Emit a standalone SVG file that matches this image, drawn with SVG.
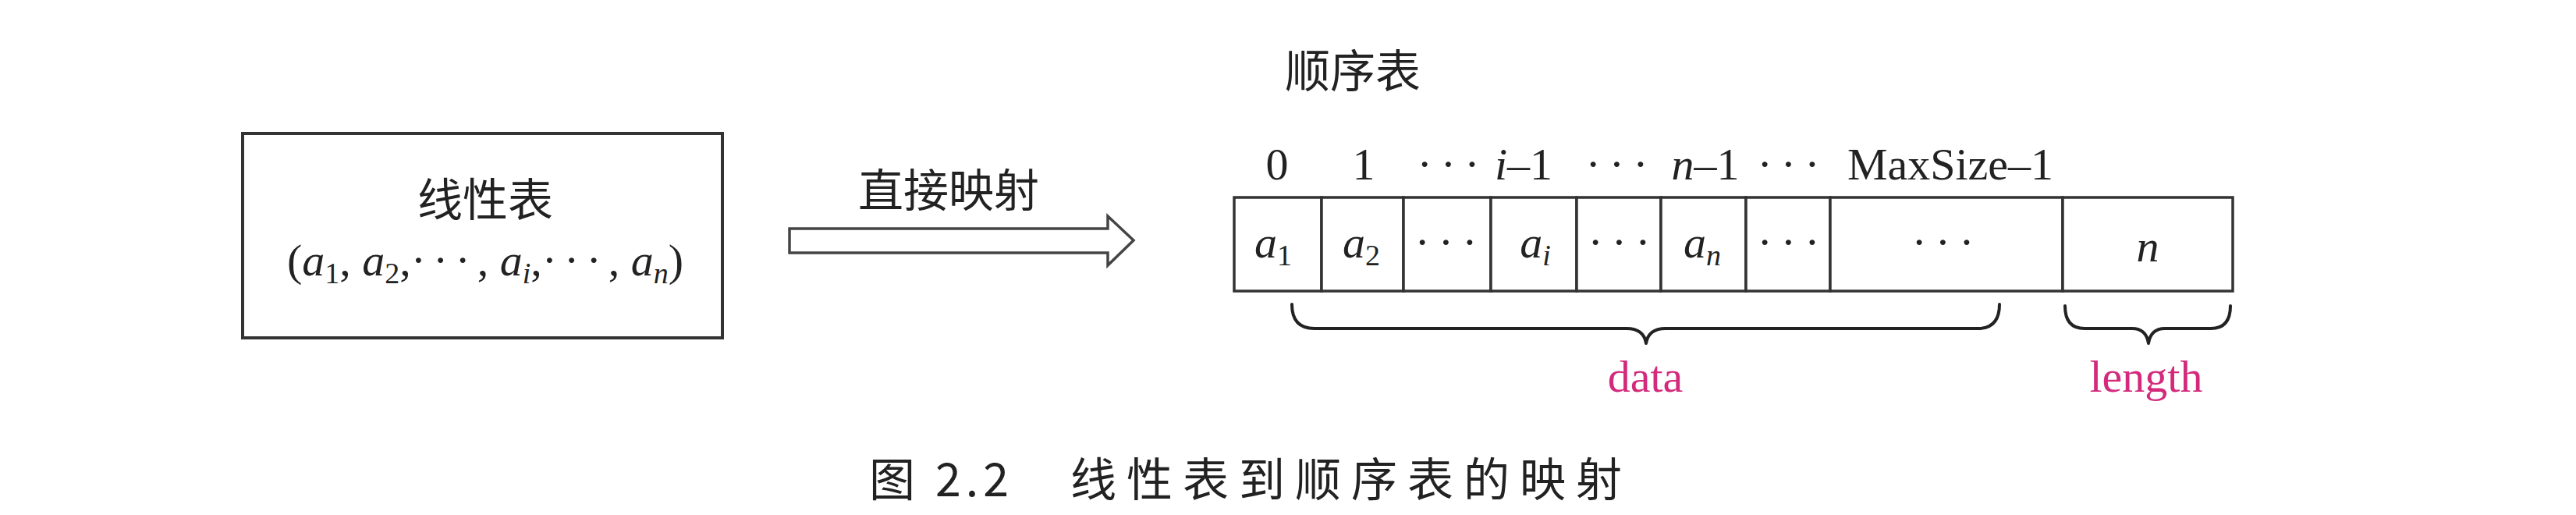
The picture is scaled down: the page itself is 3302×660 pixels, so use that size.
<svg xmlns="http://www.w3.org/2000/svg" width="3302" height="660" viewBox="0 0 3302 660">
<style>
.cjk{font-family:"Noto Sans CJK SC",sans-serif;font-size:58px;fill:#222}
.m{font-family:"Liberation Serif",serif;font-size:58px;fill:#222}
.it{font-style:italic}
.sub{font-size:38px}
.dots{font-family:"Liberation Serif",serif;font-size:58px;fill:#222;letter-spacing:11px}
.cell{fill:#fff;stroke:#333;stroke-width:3.5}
.brace{fill:none;stroke:#222;stroke-width:4;stroke-linecap:round;stroke-linejoin:round}
.lbl{font-family:"Liberation Serif",serif;font-size:58px;fill:#d42a7c}
.cap{font-family:"Noto Sans CJK SC",sans-serif;font-size:59px;fill:#222}
</style>
<rect width="3302" height="660" fill="#fff"/>

<g id="linear-list">
  <rect x="311" y="171" width="615" height="262" fill="#fff" stroke="#333" stroke-width="4"/>
  <text class="cjk" x="622" y="277" text-anchor="middle">线性表</text>
  <text class="m" x="622" y="353" text-anchor="middle">(<tspan class="it">a</tspan><tspan class="sub" dy="10">1</tspan><tspan dy="-10">, </tspan><tspan class="it">a</tspan><tspan class="sub" dy="10">2</tspan><tspan dy="-10">,</tspan><tspan letter-spacing="9">···</tspan>, <tspan class="it">a</tspan><tspan class="sub it" dy="10">i</tspan><tspan dy="-10">,</tspan><tspan letter-spacing="9">···</tspan>, <tspan class="it">a</tspan><tspan class="sub it" dy="10">n</tspan><tspan dy="-10">)</tspan></text>
</g>

<g id="connectors">
  <polygon points="1012,293 1420,293 1420,277 1453,308 1420,340 1420,324 1012,324" fill="#fff" stroke="#444" stroke-width="3.5" stroke-linejoin="miter"/>
  <text class="cjk" x="1216" y="265" text-anchor="middle">直接映射</text>
</g>

<g id="seq-title">
  <text class="cjk" x="1734" y="112" text-anchor="middle">顺序表</text>
</g>

<g id="indices">
  <text class="m" x="1637" y="230" text-anchor="middle">0</text>
  <text class="m" x="1748" y="230" text-anchor="middle">1</text>
  <text class="dots" x="1862" y="230" text-anchor="middle">···</text>
  <text class="m" x="1953" y="230" text-anchor="middle"><tspan class="it">i</tspan>–1</text>
  <text class="dots" x="2078" y="230" text-anchor="middle">···</text>
  <text class="m" x="2186" y="230" text-anchor="middle"><tspan class="it">n</tspan>–1</text>
  <text class="dots" x="2298" y="230" text-anchor="middle">···</text>
  <text class="m" x="2500" y="230" text-anchor="middle">MaxSize–1</text>
</g>

<g id="seq-table">
  <rect class="cell" x="1582" y="253" width="112" height="120"/>
  <rect class="cell" x="1694" y="253" width="105" height="120"/>
  <rect class="cell" x="1799" y="253" width="112" height="120"/>
  <rect class="cell" x="1911" y="253" width="110" height="120"/>
  <rect class="cell" x="2021" y="253" width="108" height="120"/>
  <rect class="cell" x="2129" y="253" width="109" height="120"/>
  <rect class="cell" x="2238" y="253" width="108" height="120"/>
  <rect class="cell" x="2346" y="253" width="298" height="120"/>
  <rect class="cell" x="2644" y="253" width="218" height="120"/>
  <text class="m" x="1632" y="330" text-anchor="middle"><tspan class="it">a</tspan><tspan class="sub" dy="10">1</tspan></text>
  <text class="m" x="1745" y="330" text-anchor="middle"><tspan class="it">a</tspan><tspan class="sub" dy="10">2</tspan></text>
  <text class="dots" x="1859" y="330" text-anchor="middle">···</text>
  <text class="m" x="1968" y="330" text-anchor="middle"><tspan class="it">a</tspan><tspan class="sub it" dy="10">i</tspan></text>
  <text class="dots" x="2081" y="330" text-anchor="middle">···</text>
  <text class="m" x="2182" y="330" text-anchor="middle"><tspan class="it">a</tspan><tspan class="sub it" dy="10">n</tspan></text>
  <text class="dots" x="2298" y="330" text-anchor="middle">···</text>
  <text class="dots" x="2496" y="330" text-anchor="middle">···</text>
  <text class="m it" x="2753" y="335" text-anchor="middle">n</text>
</g>

<g id="data-brace">
  <path class="brace" d="M1656,390 Q1656,421 1685,421 L2085,421 Q2107,421 2110,440 Q2113,421 2135,421 L2535,421 Q2563,421 2563,390"/>
  <text class="lbl" x="2109" y="502" text-anchor="middle">data</text>
</g>

<g id="length-brace">
  <path class="brace" d="M2647,392 Q2647,421 2672,421 L2733,421 Q2751,421 2754,440 Q2757,421 2775,421 L2834,421 Q2859,421 2859,392"/>
  <text class="lbl" x="2751" y="502" text-anchor="middle">length</text>
</g>

<g id="caption">
  <text class="cap" x="1114" y="636">图</text>
  <text class="cap" x="1199" y="636" letter-spacing="6">2.2</text>
  <text class="cap" x="1372" y="636" letter-spacing="13">线性表到顺序表的映射</text>
</g>
</svg>
